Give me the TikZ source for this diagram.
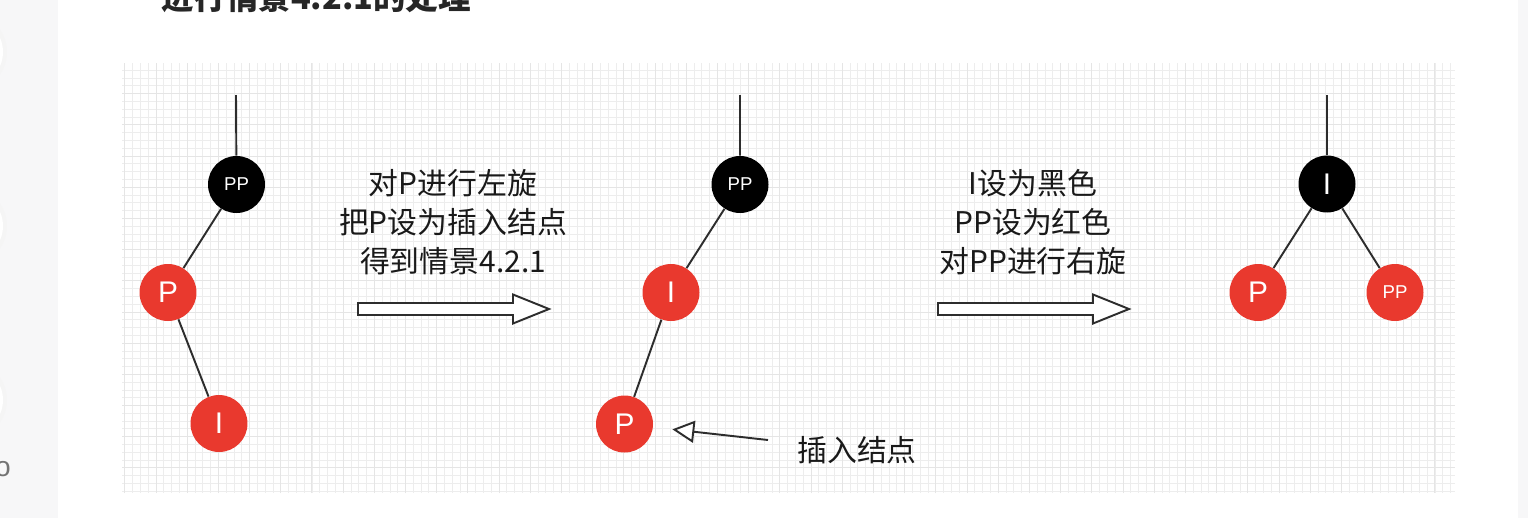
\documentclass[tikz,border=0pt]{standalone}
\usepackage{fontspec}
\setmainfont{Liberation Sans}
\newfontfamily\cjk{Noto Sans CJK SC}
\definecolor{main}{RGB}{233,57,46}
\definecolor{second}{RGB}{0,0,0}
\definecolor{edge}{RGB}{45,45,45}
\definecolor{side}{RGB}{247,247,248}
\definecolor{gridminor}{RGB}{237,237,237}
\definecolor{gridmajor}{RGB}{229,229,229}
\usetikzlibrary{
	arrows.meta,
	positioning
}
\tikzset{
  % arrow
	cstra/.style      ={-{Triangle[fill=white,length=12.5pt,width=12.5pt]}, line width=1.1pt, draw=edge, shorten >=11pt}, % open block arrow
	cstblock/.style   ={line width=1.1pt, draw=edge, fill=white}, % wide block arrow
  % curve
	cstedge/.style    ={line width=1.1pt, draw=edge},
  % grid
	cstgrid/.style    ={line width=0.5pt, draw=gridminor},
	cstgridm/.style   ={line width=0.5pt, draw=gridmajor},
  % node
	cstnode/.style    ={circle, minimum size=1.14cm, inner sep=0pt, text=white, font=\fontsize{17}{20}\selectfont},
	cstnode1/.style   ={cstnode, fill=main},   % red
	cstnode2/.style   ={cstnode, fill=second}, % black
	cstsmall/.style   ={font=\fontsize{10.6}{12}\selectfont},
	csttext/.style    ={align=center, text=black!90, font=\cjk\fontsize{17}{22.2}\selectfont}
}
\begin{document}
\begin{tikzpicture}[x=0.02cm,y=-0.02cm]
	\useasboundingbox (0,0) rectangle (1528,518);
	\clip (0,0) rectangle (1528,518);
	% page
	\fill[side] (0,0) rectangle (58,518);
	\fill[side] (1518,0) rectangle (1528,518);
	\foreach \yy in {52,226,400}{
		\fill[black!4] (-32,\yy) circle[radius=0.78cm];
		\fill[white] (-32,\yy) circle[radius=0.7cm];
	}
	\node[text=black!55, font=\fontsize{16}{16}\selectfont] (more) at (3,469) {o};
	\node[anchor=base, text=black!85, font=\cjk\bfseries\fontsize{18.5}{22}\selectfont] (title) at (316,9) {进行情景4.2.1的处理};
	% grid
	\fill[white] (122,63) rectangle (1455,493);
	\draw[cstgrid] (122,63) grid[step=0.156cm] (1455,493);
	\draw[cstgridm] (122,63) grid[step=0.624cm] (1455,493);
	% tree 1
	\coordinate (top1) at (236,95);
	\node[cstnode2,cstsmall] (pp1) at (236.5,184.5) {PP};
	\node[cstnode1] (p1) at (168,292.5) {P};
	\node[cstnode1] (i1) at (219,423.5) {I};
	\draw[cstedge] (top1)--(pp1) (pp1)--(p1) (p1)--(i1);
	% step 1
	\node[csttext] (rot1) at (453,222) {对P进行左旋\\把P设为插入结点\\得到情景4.2.1};
	\coordinate (blk1) at (358,309);
	\draw[cstblock] (blk1) -- ++(0,-6) -- ++(155,0) -- ++(0,-8.5) -- ++(36,14.5)
		-- ++(-36,14.5) -- ++(0,-8.5) -- ++(-155,0) -- cycle;
	% tree 2
	\coordinate (top2) at (740,95);
	\node[cstnode2,cstsmall] (pp2) at (740,184.5) {PP};
	\node[cstnode1] (i2) at (671,292.5) {I};
	\node[cstnode1] (p2) at (624.5,424) {P};
	\draw[cstedge] (top2)--(pp2) (pp2)--(i2) (i2)--(p2);
	\node[csttext] (ins) at (857,450) {插入结点};
	\coordinate (insTail) at (768,440);
	\draw[cstra] (insTail)--(p2);
	% step 2
	\node[csttext] (rot2) at (1033,222) {I设为黑色\\PP设为红色\\对PP进行右旋};
	\coordinate (blk2) at (938,309);
	\draw[cstblock] (blk2) -- ++(0,-6) -- ++(155,0) -- ++(0,-8.5) -- ++(36,14.5)
		-- ++(-36,14.5) -- ++(0,-8.5) -- ++(-155,0) -- cycle;
	% tree 3
	\coordinate (top3) at (1327,95);
	\node[cstnode2] (i3) at (1327,184) {I};
	\node[cstnode1] (p3) at (1258,292.5) {P};
	\node[cstnode1,cstsmall] (pp3) at (1395,292.5) {PP};
	\draw[cstedge] (top3)--(i3) (i3)--(p3) (i3)--(pp3);
\end{tikzpicture}
\end{document}
